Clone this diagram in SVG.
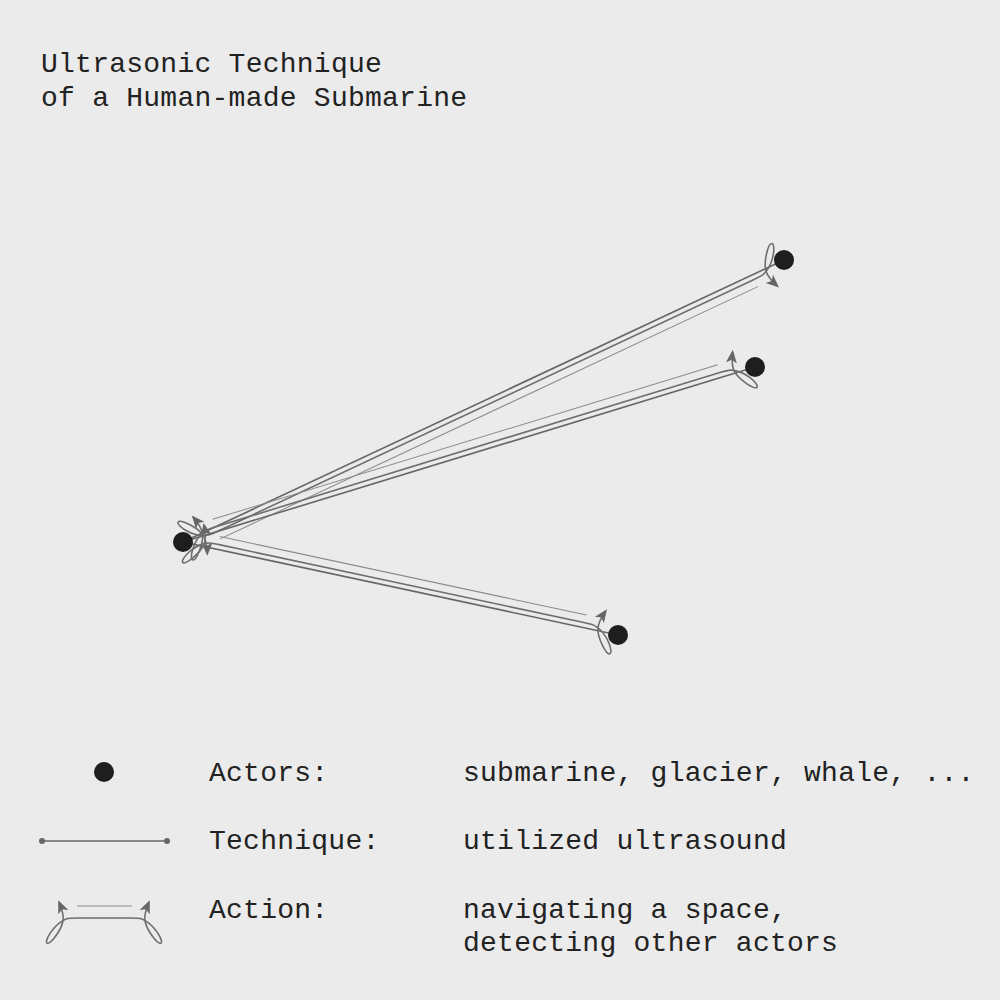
<svg xmlns="http://www.w3.org/2000/svg" width="1000" height="1000" viewBox="0 0 1000 1000">
<style>
.bg{fill:#ebebeb}
.txt{font-family:"Liberation Mono","DejaVu Sans Mono",monospace;font-size:28px;letter-spacing:0.25px;fill:#222}
.tech{stroke:#666;stroke-width:1.6;fill:none}
.act{stroke:#6e6e6e;stroke-width:1.6;fill:none;marker-start:url(#arr);marker-end:url(#arr)}
.thin{stroke:#8a8a8a;stroke-width:1;fill:none}
.node{fill:#1e1e1e}
</style>
<defs>
<marker id="arr" viewBox="-13 -7 17 14" markerWidth="17" markerHeight="14" refX="0" refY="0" markerUnits="userSpaceOnUse" orient="auto-start-reverse">
<path d="M 2 0 L -11 -5.5 L -8 0 L -11 5.5 Z" fill="#666"/>
</marker>
<marker id="dot" viewBox="-4 -4 8 8" markerWidth="8" markerHeight="8" refX="0" refY="0" markerUnits="userSpaceOnUse">
<circle r="3" fill="#666"/>
</marker>
</defs>
<rect class="bg" width="1000" height="1000"/>
<g id="title">
<text class="txt" x="41" y="72">Ultrasonic Technique</text>
<text class="txt" x="41" y="106">of a Human-made Submarine</text>
</g>
<g id="connectors">
<g id="edge-a" transform="matrix(0.9053 -0.4248 0.4248 0.9053 183 542)">
<line class="tech" x1="0" y1="0" x2="663.9" y2="0"/>
<line class="thin" x1="35" y1="13" x2="628.9" y2="13"/>
<path class="act" d="M 17 21 C 20 14, 22 8, 21 2 C 19 -8, 7 -22, 4 -20 C 1 -18, 10 -1, 24 4 C 27 5, 30 5, 36 5 L 627.9 5 C 633.9 5, 636.9 5, 639.9 4 C 653.9 -1, 662.9 -18, 659.9 -20 C 656.9 -22, 644.9 -8, 642.9 2 C 641.9 8, 643.9 14, 646.9 21"/>
</g>
<g id="edge-b" transform="matrix(0.9562 -0.2926 -0.2926 -0.9562 183 542)">
<line class="tech" x1="0" y1="0" x2="598.2" y2="0"/>
<line class="thin" x1="35" y1="13" x2="563.2" y2="13"/>
<path class="act" d="M 17 21 C 20 14, 22 8, 21 2 C 19 -8, 7 -22, 4 -20 C 1 -18, 10 -1, 24 4 C 27 5, 30 5, 36 5 L 562.2 5 C 568.2 5, 571.2 5, 574.2 4 C 588.2 -1, 597.2 -18, 594.2 -20 C 591.2 -22, 579.2 -8, 577.2 2 C 576.2 8, 578.2 14, 581.2 21"/>
</g>
<g id="edge-c" transform="matrix(0.978 0.2091 0.2091 -0.978 183 542)">
<line class="tech" x1="0" y1="0" x2="444.8" y2="0"/>
<line class="thin" x1="35" y1="13" x2="409.8" y2="13"/>
<path class="act" d="M 17 21 C 20 14, 22 8, 21 2 C 19 -8, 7 -22, 4 -20 C 1 -18, 10 -1, 24 4 C 27 5, 30 5, 36 5 L 408.8 5 C 414.8 5, 417.8 5, 420.8 4 C 434.8 -1, 443.8 -18, 440.8 -20 C 437.8 -22, 425.8 -8, 423.8 2 C 422.8 8, 424.8 14, 427.8 21"/>
</g>
</g>
<g id="node-hub"><circle class="node" cx="183" cy="542" r="10"/></g>
<g id="node-a"><circle class="node" cx="784" cy="260" r="10"/></g>
<g id="node-b"><circle class="node" cx="755" cy="367" r="10"/></g>
<g id="node-c"><circle class="node" cx="618" cy="635" r="10"/></g>
<g id="legend">
<circle class="node" cx="104" cy="772" r="10"/>
<text class="txt" x="209" y="781">Actors:</text>
<text class="txt" x="463" y="781">submarine, glacier, whale, ...</text>
<line class="tech" x1="42" y1="841" x2="167" y2="841" marker-start="url(#dot)" marker-end="url(#dot)"/>
<text class="txt" x="209" y="849">Technique:</text>
<text class="txt" x="463" y="849">utilized ultrasound</text>
<line class="thin" x1="77" y1="906" x2="132" y2="906"/>
<path class="act" transform="matrix(1 0 0 -1 0 918)" d="M 59 16 C 62 9, 64 3, 63 -3 C 61 -13, 50 -27, 47 -25 C 44 -23, 54 -6, 66 -1 C 69 0, 72 0, 78 0 L 130 0 C 136 0, 139 0, 142 -1 C 154 -6, 164 -23, 161 -25 C 158 -27, 147 -13, 145 -3 C 144 3, 146 9, 149 16"/>
<text class="txt" x="209" y="918">Action:</text>
<text class="txt" x="463" y="918">navigating a space,</text>
<text class="txt" x="463" y="951">detecting other actors</text>
</g>
</svg>
